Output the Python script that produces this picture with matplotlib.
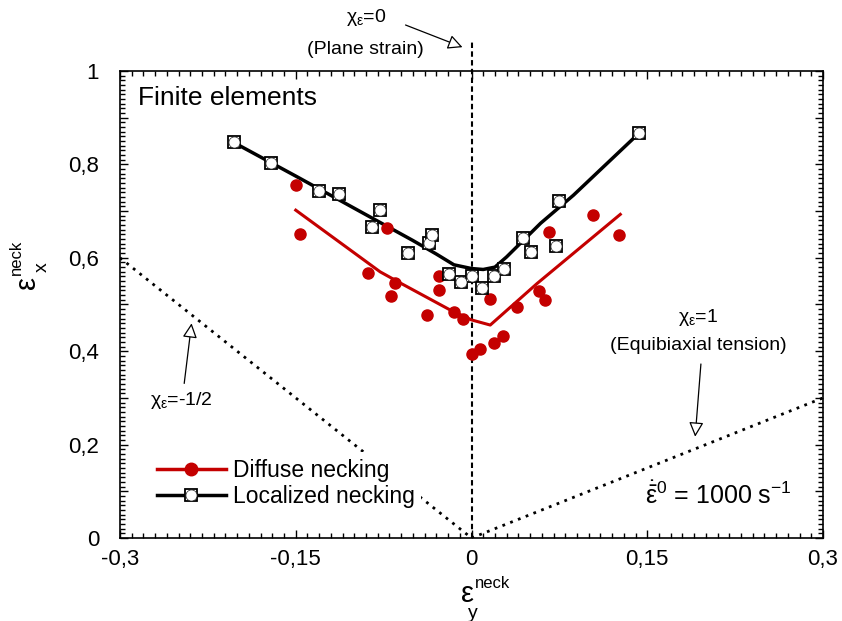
import matplotlib
matplotlib.use("Agg")
import matplotlib.pyplot as plt
import numpy as np
from matplotlib.lines import Line2D
from matplotlib.legend_handler import HandlerTuple
from matplotlib.ticker import MultipleLocator, FuncFormatter

plt.rcParams['font.family'] = ['Liberation Sans', 'DejaVu Sans']
plt.rcParams['mathtext.fontset'] = 'custom'
plt.rcParams['mathtext.rm'] = 'Liberation Sans'
plt.rcParams['mathtext.it'] = 'Liberation Sans'
plt.rcParams['mathtext.bf'] = 'Liberation Sans:bold'

RED = '#c40000'

# localized necking (finite elements)
loc_x = [-0.203, -0.171, -0.130, -0.113, -0.085, -0.078, -0.054, -0.036, -0.034, -0.019,
         -0.009, 0.000, 0.009, 0.019, 0.028, 0.044, 0.051, 0.072, 0.075, 0.143]
loc_y = [0.847, 0.802, 0.742, 0.736, 0.667, 0.702, 0.611, 0.632, 0.649, 0.565,
         0.548, 0.561, 0.536, 0.560, 0.575, 0.642, 0.612, 0.626, 0.722, 0.867]
loc_fit_x = [-0.203, -0.15, -0.10, -0.05, -0.03, -0.015, 0.0, 0.010, 0.020, 0.030, 0.059, 0.087, 0.143]
loc_fit_y = [0.847, 0.775, 0.706, 0.637, 0.608, 0.585, 0.577, 0.575, 0.580, 0.602, 0.674, 0.734, 0.867]

# diffuse necking
diff_x = [-0.150, -0.146, -0.088, -0.072, -0.069, -0.065, -0.038, -0.028, -0.028, -0.015, -0.007,
          0.000, 0.007, 0.016, 0.019, 0.027, 0.039, 0.058, 0.063, 0.066, 0.104, 0.126]
diff_y = [0.755, 0.651, 0.568, 0.663, 0.518, 0.547, 0.478, 0.562, 0.530, 0.483, 0.469,
          0.394, 0.405, 0.511, 0.417, 0.433, 0.495, 0.529, 0.510, 0.656, 0.692, 0.649]
diff_fit_x = [-0.150, -0.078, -0.060, -0.018, 0.000, 0.016, 0.056, 0.127]
diff_fit_y = [0.702, 0.570, 0.545, 0.488, 0.467, 0.456, 0.545, 0.693]

# strain path reference lines
uniax_x = [-0.3, 0.0]
uniax_y = [0.6, 0.0]
equibi_x = [0.0, 0.3]
equibi_y = [0.0, 0.3]
plane_y = [0.0, 1.062]

x_ticks = [-0.3, -0.15, 0, 0.15, 0.3]
x_ticklabels = ['-0,3', '-0,15', '0', '0,15', '0,3']

fig = plt.figure(figsize=(8.42, 6.21), dpi=100)
ax = fig.add_axes([120 / 842, 1 - 538 / 621, 703 / 842, 467 / 621])

ax.plot(uniax_x, uniax_y, color='black', lw=2, ls=(0, (1, 2)), zorder=1)
ax.plot(equibi_x, equibi_y, color='black', lw=2, ls=(0, (1, 2)), zorder=1)
ax.plot([0, 0], plane_y, color='black', lw=1.5, ls=(0, (2.6, 1.6)), zorder=1, clip_on=False)

ax.plot(diff_fit_x, diff_fit_y, color=RED, lw=2.2, zorder=3)
ax.plot(diff_x, diff_y, 'o', color=RED, ms=8, mec=RED, zorder=4)
ax.plot(loc_fit_x, loc_fit_y, color='black', lw=2.5, zorder=3)
ax.plot(loc_x, loc_y, 's', ms=9, mfc='white', mec='black', mew=1.3, zorder=5)
ax.plot(loc_x, loc_y, 'o', ms=8, mfc='white', mec='#222222', mew=0.5, zorder=6)

ax.set_xlim(-0.3, 0.3)
ax.set_ylim(0, 1)
ax.set_xticks(x_ticks)
ax.set_xticklabels(x_ticklabels)
ax.xaxis.set_minor_locator(MultipleLocator(0.01))
ax.yaxis.set_major_locator(MultipleLocator(0.1))
ax.yaxis.set_minor_locator(MultipleLocator(0.01))


def yfmt(v, pos):
    k = int(round(v * 10))
    if k % 2:
        return ''
    if k == 0:
        return '0'
    if k == 10:
        return '1'
    return ('%.1f' % v).replace('.', ',')


ax.yaxis.set_major_formatter(FuncFormatter(yfmt))
ax.tick_params(which='both', direction='in', top=True, right=True, labelsize=16, width=1)
ax.tick_params(which='major', length=6)
ax.tick_params(axis='x', which='major', pad=8)
ax.tick_params(axis='y', which='major', pad=15)
ax.tick_params(which='minor', length=3.5)
for s in ax.spines.values():
    s.set_linewidth(1.2)

# axis labels
fig.text(467 / 842, 1 - 594 / 621, r'$\varepsilon$', fontsize=21, ha='center', va='center')
fig.text(493 / 842, 1 - 583 / 621, 'neck', fontsize=12, ha='center', va='center')
fig.text(473 / 842, 1 - 614 / 621, 'y', fontsize=14, ha='center', va='center')
fig.text(28 / 842, 1 - 284 / 621, r'$\varepsilon$', fontsize=21, ha='center', va='center', rotation=90)
fig.text(16 / 842, 1 - 257 / 621, 'neck', fontsize=12, ha='center', va='center', rotation=90)
fig.text(42 / 842, 1 - 267 / 621, 'x', fontsize=14, ha='center', va='center', rotation=90)

ax.text(0.026, 0.942, 'Finite elements', transform=ax.transAxes, fontsize=19, va='center')
ax.text(0.148, 0.092, r'$\dot{\bar{\varepsilon}}^0$ = 1000 s$^{-1}$', fontsize=18, va='center')

arrow = dict(arrowstyle='-|>', fc='white', ec='black', lw=0.9, mutation_scale=22, shrinkA=0, shrinkB=0)
ax.annotate('', xy=(-0.0077, 1.051), xytext=(-0.0563, 1.0985), arrowprops=arrow, annotation_clip=False)
ax.text(-0.0903, 1.115, r'$\chi_\varepsilon$=0', fontsize=14, ha='center', va='center', clip_on=False)
ax.text(-0.0903, 1.045, '(Plane strain)', fontsize=14, ha='center', va='center', clip_on=False)

ax.annotate('', xy=(0.1909, 0.2169), xytext=(0.1958, 0.3726), arrowprops=arrow)
ax.text(0.1935, 0.472, r'$\chi_\varepsilon$=1', fontsize=14, ha='center', va='center')
ax.text(0.1935, 0.412, '(Equibiaxial tension)', fontsize=14, ha='center', va='center')

ax.annotate('', xy=(-0.2389, 0.4597), xytext=(-0.2452, 0.331), arrowprops=arrow)
ax.text(-0.2472, 0.2955, r'$\chi_\varepsilon$=-1/2', fontsize=14, ha='center', va='center')

h_diff = Line2D([], [], color=RED, lw=2.5, marker='o', ms=9, mec=RED)
h_loc_sq = Line2D([], [], color='black', lw=2.5, marker='s', ms=9, mfc='white', mec='black', mew=1.3)
h_loc_ci = Line2D([], [], ls='none', marker='o', ms=8, mfc='white', mec='#222222', mew=0.5)
leg = ax.legend([h_diff, (h_loc_sq, h_loc_ci)], ['Diffuse necking', 'Localized necking'],
                handler_map={tuple: HandlerTuple(ndivide=1, pad=0)},
                loc='upper left', bbox_to_anchor=(0.043, 0.184), borderaxespad=0,
                fontsize=16.5, handlelength=3.0, handletextpad=0.3, labelspacing=0.15,
                borderpad=0.3, frameon=True, fancybox=False, framealpha=1,
                facecolor='white', edgecolor='none')
leg.set_zorder(2)

fig.savefig('out.png', dpi=100)
